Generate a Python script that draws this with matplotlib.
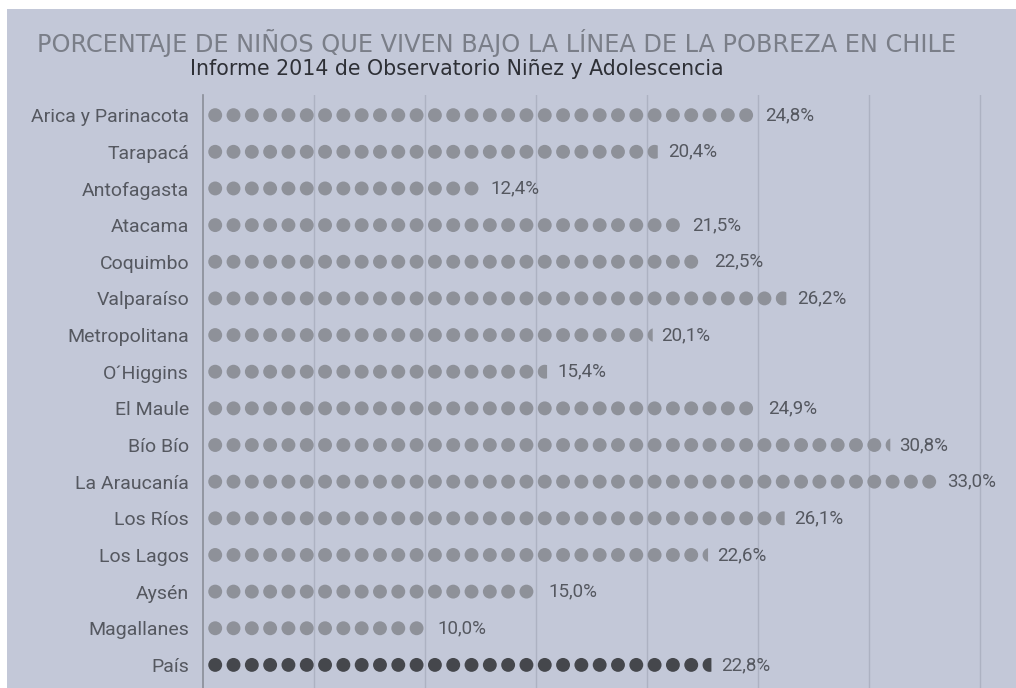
import numpy as np
import matplotlib.pyplot as plt
from matplotlib.path import Path
from matplotlib.patches import Rectangle

# Datos: porcentaje de niños bajo la línea de la pobreza (Informe 2014)
regiones = ["Arica y Parinacota", "Tarapacá", "Antofagasta", "Atacama", "Coquimbo",
            "Valparaíso", "Metropolitana", "O´Higgins", "El Maule", "Bío Bío",
            "La Araucanía", "Los Ríos", "Los Lagos", "Aysén", "Magallanes", "País"]
valores = [24.8, 20.4, 12.4, 21.5, 22.5, 26.2, 20.1, 15.4, 24.9, 30.8,
           33.0, 26.1, 22.6, 15.0, 10.0, 22.8]
etiquetas = ["24,8%", "20,4%", "12,4%", "21,5%", "22,5%", "26,2%", "20,1%", "15,4%",
             "24,9%", "30,8%", "33,0%", "26,1%", "22,6%", "15,0%", "10,0%", "22,8%"]

unidad = 0.825      # porcentaje que representa cada punto
inicio = 0.55       # centro del primer punto

fondo = "#c3c8d8"
gris_punto = "#8e9199"
gris_pais = "#45474c"


def punto_parcial(f):
    # marcador: porción izquierda de un círculo (fracción f del diámetro)
    c = -1 + 2 * f
    t0 = np.arccos(c)
    t = np.linspace(t0, 2 * np.pi - t0, 60)
    verts = np.column_stack([np.cos(t), np.sin(t)])
    verts = np.vstack([verts, verts[:1]])
    codes = [Path.MOVETO] + [Path.LINETO] * (len(verts) - 2) + [Path.CLOSEPOLY]
    return Path(verts, codes)


fig = plt.figure(figsize=(10.16, 6.88), dpi=100)
fig.patch.set_facecolor("white")
fig.patches.append(Rectangle((7 / 1016, 0), 1, 679 / 688, transform=fig.transFigure,
                             facecolor=fondo, edgecolor="none", zorder=-10))

ax = fig.add_axes([203 / 1016, 0, 810 / 1016, 593 / 688])
ax.set_facecolor(fondo)
ax.patch.set_alpha(0)

for i, (v, lab) in enumerate(zip(valores, etiquetas)):
    color = gris_pais if regiones[i] == "País" else gris_punto
    n = int(v // unidad)
    frac = v / unidad - n
    xs = inicio + unidad * np.arange(n)
    ax.scatter(xs, np.full(n, i), s=100, color=color, edgecolors="none", zorder=3)
    if frac > 0.3:
        ax.scatter([inicio + unidad * n], [i], s=100, marker=punto_parcial(frac),
                   color=color, edgecolors="none", zorder=3)
    ax.text(v + 0.55, i, lab, va="center", ha="left", fontsize=13.5,
            color="#555860", family="Roboto")

ax.set_xlim(0, 36.5)
ax.set_ylim(len(regiones) - 1 + 0.63, -0.55)
ax.set_xticks(np.arange(5, 36, 5))
ax.xaxis.grid(True, color="#adb2c2", linewidth=1)
ax.set_axisbelow(True)
ax.tick_params(axis="x", length=0, labelbottom=False)
ax.set_yticks(range(len(regiones)))
ax.set_yticklabels(regiones, fontsize=14, color="#555860", family="Roboto")
ax.tick_params(axis="y", length=0, pad=10)
for s in ["top", "right", "bottom"]:
    ax.spines[s].set_visible(False)
ax.spines["left"].set_color("#8a8e98")
ax.spines["left"].set_linewidth(1.2)

fig.text(37 / 1016, 1 - 43 / 688, "PORCENTAJE DE NIÑOS QUE VIVEN BAJO LA LÍNEA DE LA POBREZA EN CHILE",
         fontsize=17.3, color="#7a7e88", va="center", ha="left")
fig.text(190 / 1016, 1 - 69 / 688, "Informe 2014 de Observatorio Niñez y Adolescencia",
         fontsize=14.8, color="#2e3036", va="center", ha="left")

fig.savefig("out.png", dpi=100)
